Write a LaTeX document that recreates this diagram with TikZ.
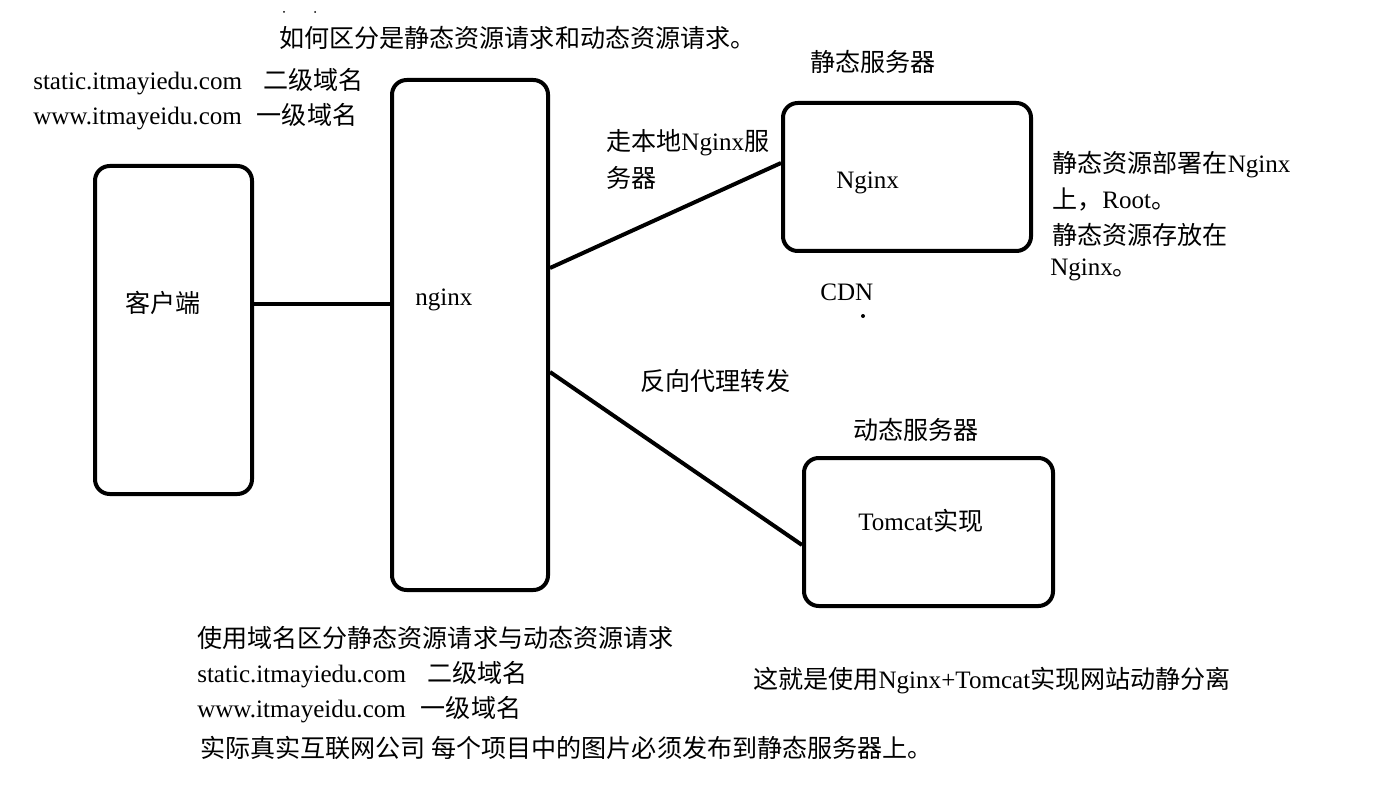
\documentclass[tikz,border=0pt]{standalone}
\usepackage{fontspec}
\setmainfont{Liberation Serif}
\newfontfamily\cjk{Noto Sans CJK SC}
\newcommand{\C}[1]{{\cjk #1}}
\begin{document}
\begin{tikzpicture}[x=0.75pt,y=-0.75pt,
  box/.style={draw=black,line width=3pt,rounded corners=11pt,inner sep=0pt},
  link/.style={draw=black,line width=3pt},
  txt/.style={anchor=west,inner sep=0pt,font=\fontsize{18.8}{22}\selectfont},
  dotmark/.style={circle,fill=black,inner sep=0pt,minimum size=3pt}]
\useasboundingbox[fill=white] (0,0) rectangle (1376,805);
% boxes
\node[box,minimum width=117.75pt,minimum height=246pt] (client) at (173.5,330) {};
\node[box,minimum width=117pt,minimum height=382.5pt] (ngx) at (470,335) {};
\node[box,minimum width=186pt,minimum height=111pt] (static) at (907,177) {};
\node[box,minimum width=186.75pt,minimum height=111pt] (tomcat) at (928.5,532) {};
% connectors
\draw[link] ([yshift=19.5pt]client.east) -- ([yshift=23.25pt]ngx.west);
\draw[link] ([yshift=50.25pt]ngx.east) -- ([yshift=10.5pt]static.west);
\draw[link] ([yshift=-27.75pt]ngx.east) -- ([yshift=-9.75pt]tomcat.west);
% box labels
\node[txt] (tclient) at (125,303) {\C{客户端}};
\node[txt] (tngx) at (415,300) {nginx};
\node[txt] (tstatic) at (836,183) {Nginx};
\node[txt] (ttomcat) at (858,521) {Tomcat\C{实现}};
% texts
\node[txt] (title) at (279,38) {\C{如何区分是静态资源请求和动态资源请求。}};
\node[txt] (d1) at (33,82) {static.itmayiedu.com\hspace{0.85em}\C{二级域名}};
\node[txt] (d2) at (33,117) {www.itmayeidu.com\hspace{0.6em}\C{一级域名}};
\node[txt] (hstatic) at (810,62) {\C{静态服务器}};
\node[txt] (l1a) at (606,143) {\C{走本地}Nginx\C{服}};
\node[txt] (l1b) at (606,178) {\C{务器}};
\node[txt] (n1) at (1052,165) {\C{静态资源部署在}Nginx};
\node[txt] (n2) at (1052,200) {\C{上，}Root\C{。}};
\node[txt] (n3) at (1052,235) {\C{静态资源存放在}};
\node[txt] (n4) at (1050,270) {Nginx\C{。}};
\node[txt] (cdn) at (820,292) {CDN};
\node[dotmark] (cdndot) at (863,316) {};
\node[circle,fill=black,inner sep=0pt,minimum size=1.5pt] (dotA) at (284,12) {};
\node[circle,fill=black,inner sep=0pt,minimum size=1.5pt] (dotB) at (315,12) {};
\node[txt] (l2) at (640,381) {\C{反向代理转发}};
\node[txt] (hdyn) at (853,430) {\C{动态服务器}};
\node[txt] (b1) at (197,638) {\C{使用域名区分静态资源请求与动态资源请求}};
\node[txt] (b2) at (197,675) {static.itmayiedu.com\hspace{0.85em}\C{二级域名}};
\node[txt] (b3) at (197,710) {www.itmayeidu.com\hspace{0.6em}\C{一级域名}};
\node[txt] (b4) at (200,748) {\C{实际真实互联网公司 每个项目中的图片必须发布到静态服务器上。}};
\node[txt] (summary) at (753,681) {\C{这就是使用}Nginx+Tomcat\C{实现网站动静分离}};
\end{tikzpicture}
\end{document}
